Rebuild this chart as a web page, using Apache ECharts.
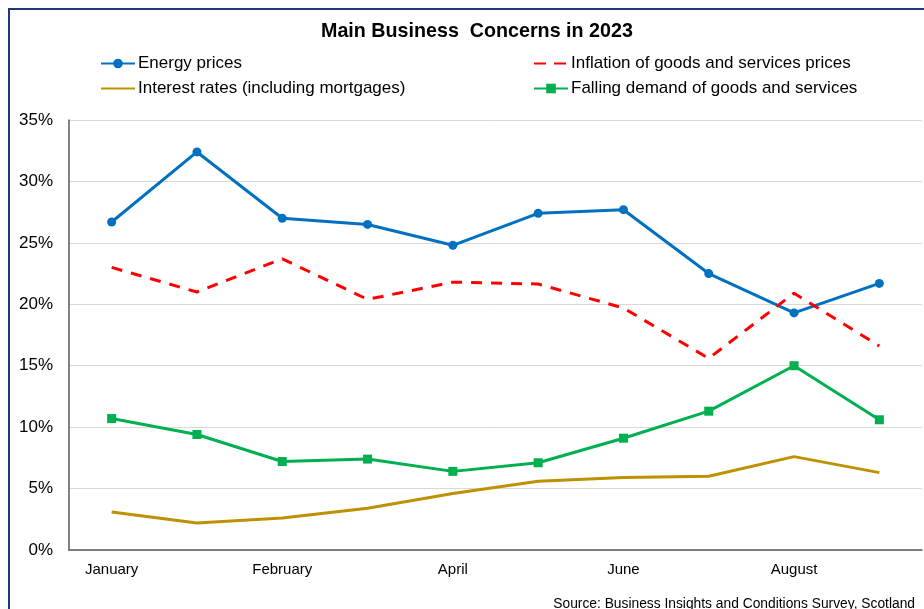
<!DOCTYPE html>
<html>
<head>
<meta charset="utf-8">
<script src="https://cdn.jsdelivr.net/npm/echarts@6/dist/echarts.min.js"></script>
<style>
  html, body { margin: 0; padding: 0; background: #fff; }
  #chart { width: 924px; height: 609px; }
</style>
</head>
<body>
<div id="chart"></div>
<script>
// Survey waves (two per month at the start of the year)
const waves = ['January', 'January ', 'February', 'March', 'April', 'May', 'June', 'July', 'August', 'September'];

// Share of businesses citing each concern (%)
const energyPrices = [26.7, 32.4, 27.0, 26.5, 24.8, 27.4, 27.7, 22.5, 19.3, 21.7];
const inflationPrices = [23.0, 21.0, 23.7, 20.4, 21.8, 21.65, 19.7, 15.6, 20.9, 16.6];
const interestRates = [3.1, 2.2, 2.6, 3.4, 4.6, 5.6, 5.9, 6.0, 7.6, 6.3];
const fallingDemand = [10.7, 9.4, 7.2, 7.4, 6.4, 7.1, 9.1, 11.3, 15.0, 10.6];

const yTicks = [0, 5, 10, 15, 20, 25, 30, 35];

const FONT = '"Liberation Sans", Arial, sans-serif';
const chart = echarts.init(document.getElementById('chart'));

// One legend block per entry so the entries sit in two fixed columns
function legendAt(item, left, top) {
  return {
    data: [item],
    left: left,
    top: top,
    itemWidth: 34,
    itemHeight: 12,
    itemGap: 0,
    padding: 0,
    textStyle: { fontFamily: FONT, fontSize: 17, color: '#000', padding: [0, 0, 0, -2] }
  };
}

chart.setOption({
  animation: false,
  backgroundColor: '#fff',
  textStyle: { fontFamily: FONT },
  title: {
    text: 'Main Business  Concerns in 2023',
    left: 316,
    top: 17,
    textStyle: { fontFamily: FONT, fontSize: 19.7, fontWeight: 'bold', color: '#000' }
  },
  legend: [
    legendAt('Energy prices', 100, 55),
    legendAt({
      name: 'Inflation of goods and services prices',
      itemStyle: { opacity: 0 },
      lineStyle: { type: [12, 8] }
    }, 533, 55),
    legendAt({
      name: 'Interest rates (including mortgages)',
      itemStyle: { opacity: 0 }
    }, 100, 80),
    legendAt('Falling demand of goods and services', 533, 80)
  ],
  grid: { left: 69, right: 2, top: 120, bottom: 59, containLabel: false },
  xAxis: {
    type: 'category',
    data: waves,
    boundaryGap: true,
    axisLine: { lineStyle: { color: '#595959', width: 1.5 } },
    axisTick: { show: false },
    axisLabel: {
      interval: 1,
      margin: 12,
      fontFamily: FONT,
      fontSize: 15,
      color: '#000',
      formatter: v => v.trim()
    }
  },
  yAxis: {
    type: 'value',
    min: yTicks[0],
    max: yTicks[yTicks.length - 1],
    interval: 5,
    axisLine: { show: true, lineStyle: { color: '#595959', width: 1.5 } },
    axisTick: { show: false },
    splitLine: { lineStyle: { color: '#d9d9d9', width: 1 } },
    axisLabel: {
      margin: 16,
      fontFamily: FONT,
      fontSize: 17,
      color: '#000',
      formatter: v => v + '%'
    }
  },
  series: [
    {
      name: 'Energy prices',
      type: 'line',
      data: energyPrices,
      color: '#0070C0',
      symbol: 'circle',
      symbolSize: 9,
      lineStyle: { width: 3, color: '#0070C0' },
      itemStyle: { color: '#0070C0' }
    },
    {
      name: 'Inflation of goods and services prices',
      type: 'line',
      data: inflationPrices,
      color: '#FF0000',
      symbol: 'none',
      lineStyle: { width: 3, color: '#FF0000', type: [11, 9] },
      itemStyle: { color: '#FF0000' }
    },
    {
      name: 'Interest rates (including mortgages)',
      type: 'line',
      data: interestRates,
      color: '#BF9000',
      symbol: 'none',
      lineStyle: { width: 3, color: '#BF9000' },
      itemStyle: { color: '#BF9000' }
    },
    {
      name: 'Falling demand of goods and services',
      type: 'line',
      data: fallingDemand,
      color: '#00B050',
      symbol: 'rect',
      symbolSize: 9,
      lineStyle: { width: 3, color: '#00B050' },
      itemStyle: { color: '#00B050' }
    }
  ],
  graphic: [
    {
      type: 'rect',
      shape: { x: 9, y: 9, width: 930, height: 620 },
      style: { fill: 'none', stroke: '#1F3A78', lineWidth: 2 },
      silent: true
    },
    {
      type: 'text',
      right: 9,
      top: 597,
      style: {
        text: 'Source: Business Insights and Conditions Survey, Scotland',
        fontFamily: FONT,
        fontSize: 13.8,
        fill: '#000'
      }
    }
  ]
});
</script>
</body>
</html>
